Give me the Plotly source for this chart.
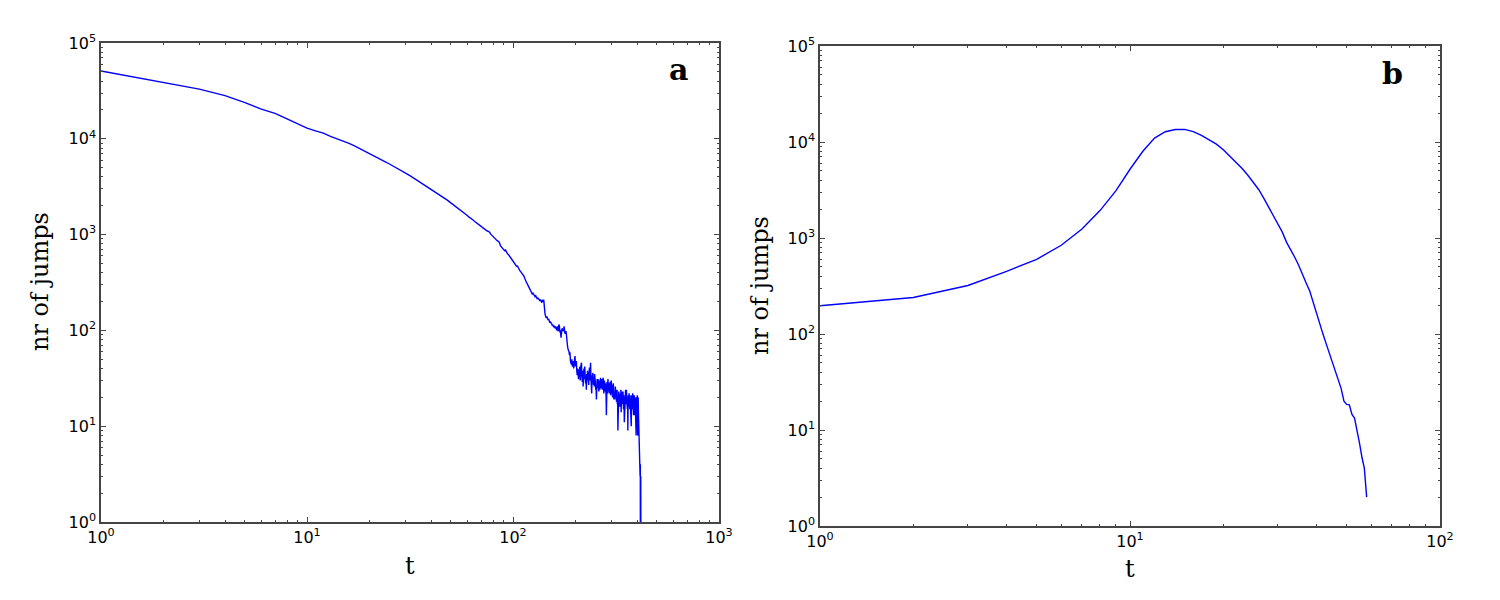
import plotly.graph_objects as go

# panel a: number of jumps per time step t = 1..420
jumps_a = [
    51000, 38900, 33000, 28200, 23900, 20400, 18400, 16100, 14300, 12900,
    12100, 11450, 10600, 10000, 9530, 8950, 8450, 7950, 7500, 7100,
    6750, 6400, 6050, 5750, 5490, 5250, 5000, 4800, 4600, 4400,
    4220, 4050, 3880, 3720, 3590, 3450, 3330, 3220, 3110, 3010,
    2900, 2800, 2700, 2620, 2530, 2450, 2370, 2290, 2210, 2140,
    2080, 2020, 1950, 1890, 1830, 1780, 1720, 1670, 1620, 1580,
    1530, 1500, 1460, 1420, 1380, 1350, 1310, 1280, 1250, 1220,
    1190, 1160, 1140, 1110, 1090, 1080, 1057, 1010, 980, 950,
    930, 905, 890, 860, 850, 820, 760, 740, 720, 700,
    680, 690, 650, 630, 619, 600, 590, 570, 555, 540,
    520, 500, 485, 468, 470, 445, 430, 420, 410, 400,
    390, 383, 370, 350, 340, 320, 310, 300, 290, 280,
    265, 257, 250, 240, 245, 235, 228, 225, 230, 220,
    215, 218, 212, 210, 205, 210, 200, 195, 205, 202,
    208, 166, 150, 140, 135, 140, 130, 128, 132, 125,
    120, 122, 120, 118, 112, 115, 110, 108, 112, 105,
    108, 107, 100, 110, 104, 98, 115, 111, 95, 100,
    84, 95, 105, 102, 100, 98, 110, 100, 92, 95,
    98, 80, 75, 68, 64, 62, 60, 55, 59, 48,
    45, 44, 50, 42, 44, 48, 40, 45, 50, 54,
    42, 46, 48, 38, 34, 40, 36, 31, 39, 35,
    42, 30, 37, 44, 46, 33, 29, 38, 26, 34,
    40, 31, 42, 36, 28, 33, 24, 35, 30, 38,
    32, 36, 27, 34, 41, 30, 39, 46, 31, 28,
    22, 34, 30, 36, 33, 27, 31, 26, 35, 33,
    29, 24, 27, 19, 26, 31, 28, 25, 31, 27,
    23, 30, 26, 24, 29, 32, 25, 27, 28, 31,
    24, 29, 26, 32, 28, 22, 27, 30, 25, 23,
    28, 26, 21, 13, 24, 29, 26, 22, 31, 27,
    23, 28, 25, 22, 24, 29, 26, 21, 27, 30,
    25, 22, 27, 20, 24, 22, 28, 23, 19, 25,
    21, 19, 23, 26, 20, 24, 22, 18, 21, 24,
    17, 20, 9, 16, 21, 23, 18, 19, 21, 16,
    22, 19, 17, 24, 14, 20, 18, 23, 21, 17,
    22, 23, 19, 15, 21, 18, 11, 16, 20, 22,
    18, 24, 19, 17, 24, 21, 16, 19, 15, 20,
    9, 17, 21, 16, 19, 22, 18, 19, 15, 21,
    17, 14, 19, 16, 10, 18, 21, 15, 19, 17,
    22, 21, 16, 19, 13, 20, 18, 21, 13, 17,
    20, 15, 19, 12, 18, 8, 16, 20, 14, 19,
    21, 17, 8, 14, 20, 18, 12, 10, 8, 7,
    7, 6, 4, 3, 4, 0, 3, 0, 1, 0,
]
t_a = list(range(1, len(jumps_a) + 1))

# panel b: t = 1..58
jumps_b = [
    197, 240, 320, 450, 600, 840, 1240, 1930, 3100, 5200,
    8000, 11000, 12800, 13500, 13550, 12850, 11700, 10600, 9500, 8300,
    7100, 6200, 5300, 4500, 3800, 3200, 2600, 2100, 1700, 1380,
    1150, 900, 760, 630, 520, 410, 340, 280, 210, 165,
    125, 98, 78, 62, 51, 40, 33, 27, 20, 18.5,
    18.3, 14.5, 13.3, 10, 7.3, 5.2, 4.0, 2.0,
]
t_b = list(range(1, len(jumps_b) + 1))

decades_a_x = [0, 1, 2, 3]
decades_b_x = [0, 1, 2]
decades_y = [0, 1, 2, 3, 4, 5]

# zeros can't sit on a log axis; push them far below the frame like matplotlib does
y_a = [v if v > 0 else 1e-3 for v in jumps_a]

AXCOL = "#454545"
W, H = 1500, 600
OFF = 8  # page body margin


def px(x):
    return (x - OFF) / W


def py(y):
    return 1 - (y - OFF) / H


def log_axis(exps, domain, anchor):
    minor_vals = [m * 10 ** d for d in exps[:-1] for m in range(2, 10)]
    return dict(
        type="log", range=[exps[0], exps[-1]], domain=domain, anchor=anchor,
        tickvals=[10 ** e for e in exps],
        ticktext=["10<sup>%d</sup>" % e for e in exps],
        showgrid=False, zeroline=False, automargin=False,
        showline=True, linecolor=AXCOL, linewidth=1.6, mirror="ticks",
        ticks="inside", ticklen=5, tickwidth=1, tickcolor=AXCOL,
        minor=dict(ticks="inside", ticklen=2.5, tickwidth=1, tickcolor=AXCOL,
                   tickvals=minor_vals, showgrid=False),
        tickfont=dict(family="DejaVu Sans", size=16, color="black"),
    )


fig = go.Figure()
fig.add_trace(go.Scatter(x=t_a, y=y_a, mode="lines",
                         line=dict(color="#0000ff", width=1.4),
                         xaxis="x", yaxis="y", showlegend=False))
fig.add_trace(go.Scatter(x=t_b, y=jumps_b, mode="lines",
                         line=dict(color="#0000ff", width=1.4),
                         xaxis="x2", yaxis="y2", showlegend=False))

fig.update_layout(
    width=W, height=H,
    margin=dict(l=0, r=0, t=0, b=0, autoexpand=False),
    paper_bgcolor="white", plot_bgcolor="white",
    xaxis=log_axis(decades_a_x, [px(101), px(719)], "y"),
    yaxis=log_axis(decades_y, [py(522), py(43)], "x"),
    xaxis2=log_axis(decades_b_x, [px(820), px(1440)], "y2"),
    yaxis2=log_axis(decades_y, [py(526), py(46)], "x2"),
)

serif = dict(family="DejaVu Serif", size=24, color="black")
labels = [
    dict(text="t", x=px(410), y=py(566)),
    dict(text="t", x=px(1130), y=py(569)),
    dict(text="nr of jumps", x=px(40), y=py(282), textangle=-90),
    dict(text="nr of jumps", x=px(760), y=py(286), textangle=-90),
]
for lab in labels:
    fig.add_annotation(xref="paper", yref="paper", showarrow=False,
                       xanchor="center", yanchor="middle", font=serif, **lab)

for txt, xp, yp in [("a", 678, 70), ("b", 1392, 73)]:
    fig.add_annotation(text="<b>" + txt + "</b>", xref="paper", yref="paper",
                       x=px(xp), y=py(yp), showarrow=False,
                       xanchor="center", yanchor="middle",
                       font=dict(family="DejaVu Serif", size=30, color="black"))

fig.write_html("out.html")
